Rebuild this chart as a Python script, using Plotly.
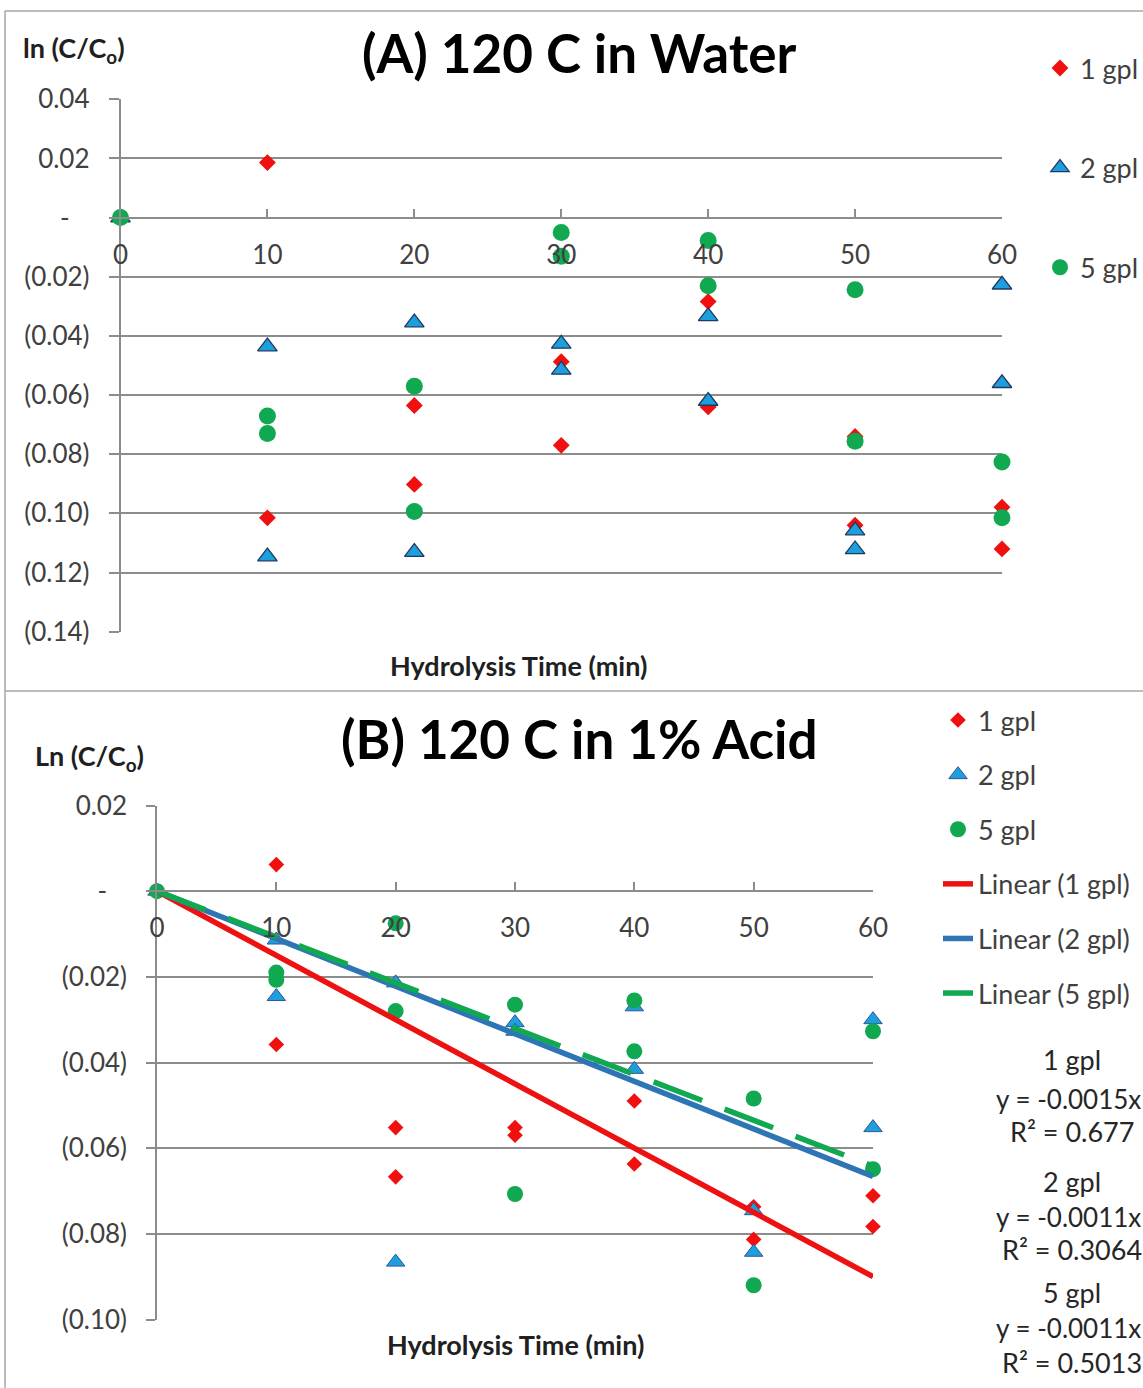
import plotly.graph_objects as go

# ---------------- data ----------------
time_min = [0, 10, 10, 20, 20, 30, 30, 40, 40, 50, 50, 60, 60]
series_names = ["1 gpl", "2 gpl", "5 gpl"]

# (A) 120 C in Water
water_1gpl = [0, 0.0186, -0.1015, -0.0635, -0.0902, -0.0487, -0.0770, -0.0284, -0.0640, -0.0740, -0.1040, -0.0979, -0.1120]
water_2gpl = [0, -0.0436, -0.1146, -0.0355, -0.1131, -0.0427, -0.0515, -0.0334, -0.0620, -0.1058, -0.1122, -0.0227, -0.0560]
water_5gpl = [0, -0.0671, -0.0730, -0.0570, -0.0994, -0.0050, -0.0131, -0.0077, -0.0230, -0.0244, -0.0756, -0.0826, -0.1015]

# (B) 120 C in 1% Acid
acid_1gpl = [0, 0.0062, -0.0358, -0.0552, -0.0667, -0.0552, -0.0570, -0.0490, -0.0637, -0.0737, -0.0813, -0.0711, -0.0783]
acid_2gpl = [0, -0.0114, -0.0246, -0.0214, -0.0866, -0.0307, -0.0327, -0.0270, -0.0416, -0.0746, -0.0843, -0.0300, -0.0552]
acid_5gpl = [0, -0.0190, -0.0207, -0.0075, -0.0280, -0.0265, -0.0707, -0.0255, -0.0374, -0.0484, -0.0920, -0.0327, -0.0649]

# linear trend lines (through origin)
trend_names = ["Linear (1 gpl)", "Linear (2 gpl)", "Linear (5 gpl)"]
trend_slopes = [-0.0015, -0.00111, -0.00107]
trend_x = [0, 60]

# equation labels
eq_groups = ["1 gpl", "2 gpl", "5 gpl"]
eq_lines = ["y = -0.0015x", "y = -0.0011x", "y = -0.0011x"]
eq_r2 = ["R² = 0.677", "R² = 0.3064", "R² = 0.5013"]

# axis ticks
x_ticks = [0, 10, 20, 30, 40, 50, 60]
DASH = "-\u00a0\u00a0\u00a0"
a_yticks = [0.04, 0.02, 0, -0.02, -0.04, -0.06, -0.08, -0.10, -0.12, -0.14]
a_ytext = ["0.04", "0.02", DASH, "(0.02)", "(0.04)", "(0.06)", "(0.08)", "(0.10)", "(0.12)", "(0.14)"]
b_yticks = [0.02, 0, -0.02, -0.04, -0.06, -0.08, -0.10]
b_ytext = ["0.02", DASH, "(0.02)", "(0.04)", "(0.06)", "(0.08)", "(0.10)"]

# ---------------- layout helpers ----------------
W, H = 1143, 1388
def fx(p):
    return p / W
def fy(p):
    return 1 - p / H

FONT = "Lato"
RED = "#F01010"
BLUE = "#1E9FDD"
BLUE_EDGE = "#1F3A60"
GREEN = "#10A850"
LBLUE = "#2E75B6"
GRID = "#8C8C8C"
TXT = "#404040"

a_xdom = [fx(120.5), fx(1002)]
a_ydom = [fy(631.7), fy(99.3)]
a_yrange = [-0.14, 0.04]
b_xdom = [fx(157), fx(873)]
b_ydom = [fy(1319.5), fy(805.5)]
b_yrange = [-0.10, 0.02]

def zero_pos(dom, rng):
    return dom[0] + (0 - rng[0]) / (rng[1] - rng[0]) * (dom[1] - dom[0])

fig = go.Figure()

marker_styles = [
    dict(symbol="diamond", size=13, color=RED, line=dict(width=0)),
    dict(symbol="triangle-up", size=17, color=BLUE, line=dict(width=1.3, color=BLUE_EDGE)),
    dict(symbol="circle", size=17, color=GREEN, line=dict(width=0)),
]

for name, ys, ms in zip(series_names, [water_1gpl, water_2gpl, water_5gpl], marker_styles):
    fig.add_trace(go.Scatter(x=time_min, y=ys, mode="markers", name=name, marker=ms,
                             xaxis="x", yaxis="y", cliponaxis=False,
                             legend="legend", legendgroup="a" + name))

marker_styles_b = [
    dict(symbol="diamond", size=12, color=RED, line=dict(width=0)),
    dict(symbol="triangle-up", size=16, color=BLUE, line=dict(width=1.0, color="#2F5597")),
    dict(symbol="circle", size=16, color=GREEN, line=dict(width=0)),
]
for name, ys, ms in zip(series_names, [acid_1gpl, acid_2gpl, acid_5gpl], marker_styles_b):
    fig.add_trace(go.Scatter(x=time_min, y=ys, mode="markers", name=name, marker=ms,
                             xaxis="x2", yaxis="y2", cliponaxis=False,
                             legend="legend2", legendgroup="b" + name))

line_styles = [
    dict(color="#EE1111", width=5.5),
    dict(color=LBLUE, width=5.5),
    dict(color=GREEN, width=5.5, dash="52px,24px"),
]
for name, slope, ls in zip(trend_names, trend_slopes, line_styles):
    fig.add_trace(go.Scatter(x=trend_x, y=[slope * t for t in trend_x], mode="lines", name=name,
                             line=ls, xaxis="x2", yaxis="y2", cliponaxis=False,
                             legend="legend2", legendgroup="b" + name))

tickfont = dict(family=FONT, size=26, color=TXT)

def xaxis_cfg(dom, pos):
    return dict(domain=dom, range=[0, 60], anchor="free", position=pos,
                tickvals=x_ticks, ticks="inside", ticklen=8, tickwidth=1.5, tickcolor=GRID,
                showline=True, linecolor=GRID, linewidth=1.5, showgrid=False, zeroline=False,
                tickfont=tickfont, ticklabelstandoff=14, fixedrange=True, automargin=False)

def yaxis_cfg(dom, rng, tv, tt, anchor, tl):
    return dict(domain=dom, range=rng, anchor=anchor, tickvals=tv, ticktext=tt,
                ticks="outside", ticklen=tl, tickwidth=1.5, tickcolor=GRID,
                showline=True, linecolor=GRID, linewidth=1.5,
                showgrid=True, gridcolor=GRID, gridwidth=1.5, zeroline=False,
                tickfont=tickfont, ticklabelstandoff=14, fixedrange=True, automargin=False)

annotations = []
def txt(text, x, y, size, bold=False, color="black", xanchor="center"):
    annotations.append(dict(text=("<b>%s</b>" % text) if bold else text, x=fx(x), y=fy(y),
                            xref="paper", yref="paper", xanchor=xanchor, yanchor="middle",
                            showarrow=False, font=dict(family=FONT, size=size, color=color)))

txt("(A) 120 C in Water", 579, 53, 53, bold=True)
txt("(B) 120 C in 1% Acid", 579, 738, 53, bold=True)
txt("ln (C/C<sub>o</sub>)", 74, 50, 27, bold=True, color="#202020")
txt("Ln (C/C<sub>o</sub>)", 89, 757, 27, bold=True, color="#202020")
txt("Hydrolysis Time (min)", 518, 665, 27, bold=True, color="#202020")
txt("Hydrolysis Time (min)", 515, 1344, 27, bold=True, color="#202020")

eq_rows = [(1059, 1099, 1131), (1181, 1217, 1249), (1292, 1328, 1362)]
for g, e, r, rows in zip(eq_groups, eq_lines, eq_r2, eq_rows):
    txt(g, 1072, rows[0], 27, color="#262626")
    txt(e, 1068, rows[1], 26, color="#262626")
    txt(r, 1072, rows[2], 27, color="#262626")

frame = dict(color="#A6A6A6", width=1.5)
shapes = [
    dict(type="line", xref="paper", yref="paper", x0=fx(5), x1=fx(1143), y0=fy(11), y1=fy(11), line=frame),
    dict(type="line", xref="paper", yref="paper", x0=fx(5), x1=fx(5), y0=fy(11), y1=fy(1388), line=frame),
    dict(type="line", xref="paper", yref="paper", x0=fx(5), x1=fx(1143), y0=fy(691), y1=fy(691), line=frame),
]

fig.update_layout(
    width=W, height=H,
    margin=dict(l=0, r=0, t=0, b=0, autoexpand=False),
    paper_bgcolor="white", plot_bgcolor="white",
    font=dict(family=FONT, color=TXT),
    xaxis=xaxis_cfg(a_xdom, zero_pos(a_ydom, a_yrange)),
    yaxis=yaxis_cfg(a_ydom, a_yrange, a_yticks, a_ytext, "x", 10),
    xaxis2=xaxis_cfg(b_xdom, zero_pos(b_ydom, b_yrange)),
    yaxis2=yaxis_cfg(b_ydom, b_yrange, b_yticks, b_ytext, "x2", 9),
    legend=dict(x=fx(1040), y=fy(44), xanchor="left", yanchor="top",
                font=dict(family=FONT, size=27, color=TXT), tracegroupgap=61.5,
                bgcolor="rgba(0,0,0,0)", itemwidth=30),
    legend2=dict(x=fx(938), y=fy(696), xanchor="left", yanchor="top",
                 font=dict(family=FONT, size=27, color=TXT), tracegroupgap=16.5,
                 bgcolor="rgba(0,0,0,0)", itemwidth=30),
    showlegend=True,
    annotations=annotations,
    shapes=shapes,
)

fig.write_html("out.html", config={"displayModeBar": False},
               post_script="document.body.style.margin='0';document.body.style.overflow='hidden';")
